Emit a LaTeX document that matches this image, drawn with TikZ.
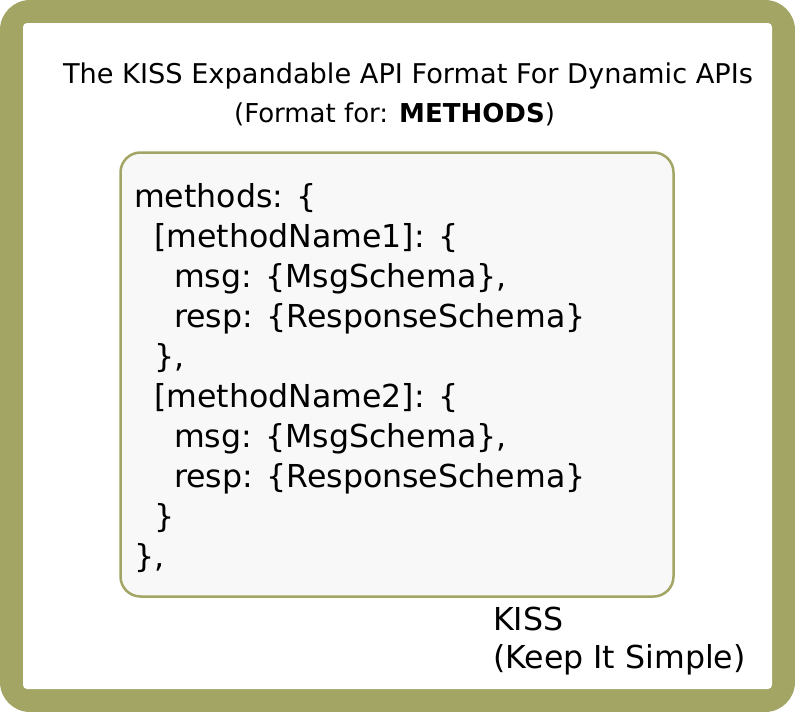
\documentclass[tikz,border=0pt]{standalone}
\usepackage{fontspec}
\setmainfont{DejaVu Sans}
\definecolor{olivefr}{HTML}{A2A563}
\definecolor{boxfill}{HTML}{F8F8F8}
\begin{document}
\begin{tikzpicture}[x=1pt,y=-1pt,
  titletxt/.style={font=\fontsize{27.2}{32}\selectfont, inner sep=0pt, anchor=base},
  subtxt/.style={font=\fontsize{26}{32}\selectfont, inner sep=0pt, anchor=base},
  codetxt/.style={font=\fontsize{31.6}{38}\selectfont, inner sep=0pt, anchor=base west},
  panel/.style={draw=olivefr, line width=2.5pt, fill=boxfill, rounded corners=20pt}]
\useasboundingbox (0,0) rectangle (795,712);
\fill[olivefr, rounded corners=30pt] (0,0) rectangle (795,712);
\fill[white, rounded corners=4pt] (23,23) rectangle (772,689);
\node[titletxt] (t1) at (408,83) {The KISS Expandable API Format For Dynamic APIs};
\node[subtxt] (t2) at (394.5,122) {(Format for: \textbf{METHODS})};
\draw[panel] (120.5,152.5) rectangle (673.5,596.5);
\node[codetxt] (c1) at (134,207) {methods: \{};
\node[codetxt] (c2) at (154,247) {[methodName1]: \{};
\node[codetxt] (c3) at (174,287) {msg: \{MsgSchema\},};
\node[codetxt] (c4) at (174,327) {resp: \{ResponseSchema\}};
\node[codetxt] (c5) at (154,367) {\},};
\node[codetxt] (c6) at (154,407) {[methodName2]: \{};
\node[codetxt] (c7) at (174,447) {msg: \{MsgSchema\},};
\node[codetxt] (c8) at (174,487) {resp: \{ResponseSchema\}};
\node[codetxt] (c9) at (154,527) {\}};
\node[codetxt] (c10) at (134,567) {\},};
\node[codetxt] (k1) at (493,630) {KISS};
\node[codetxt] (k2) at (493,668) {(Keep It Simple)};
\end{tikzpicture}
\end{document}
